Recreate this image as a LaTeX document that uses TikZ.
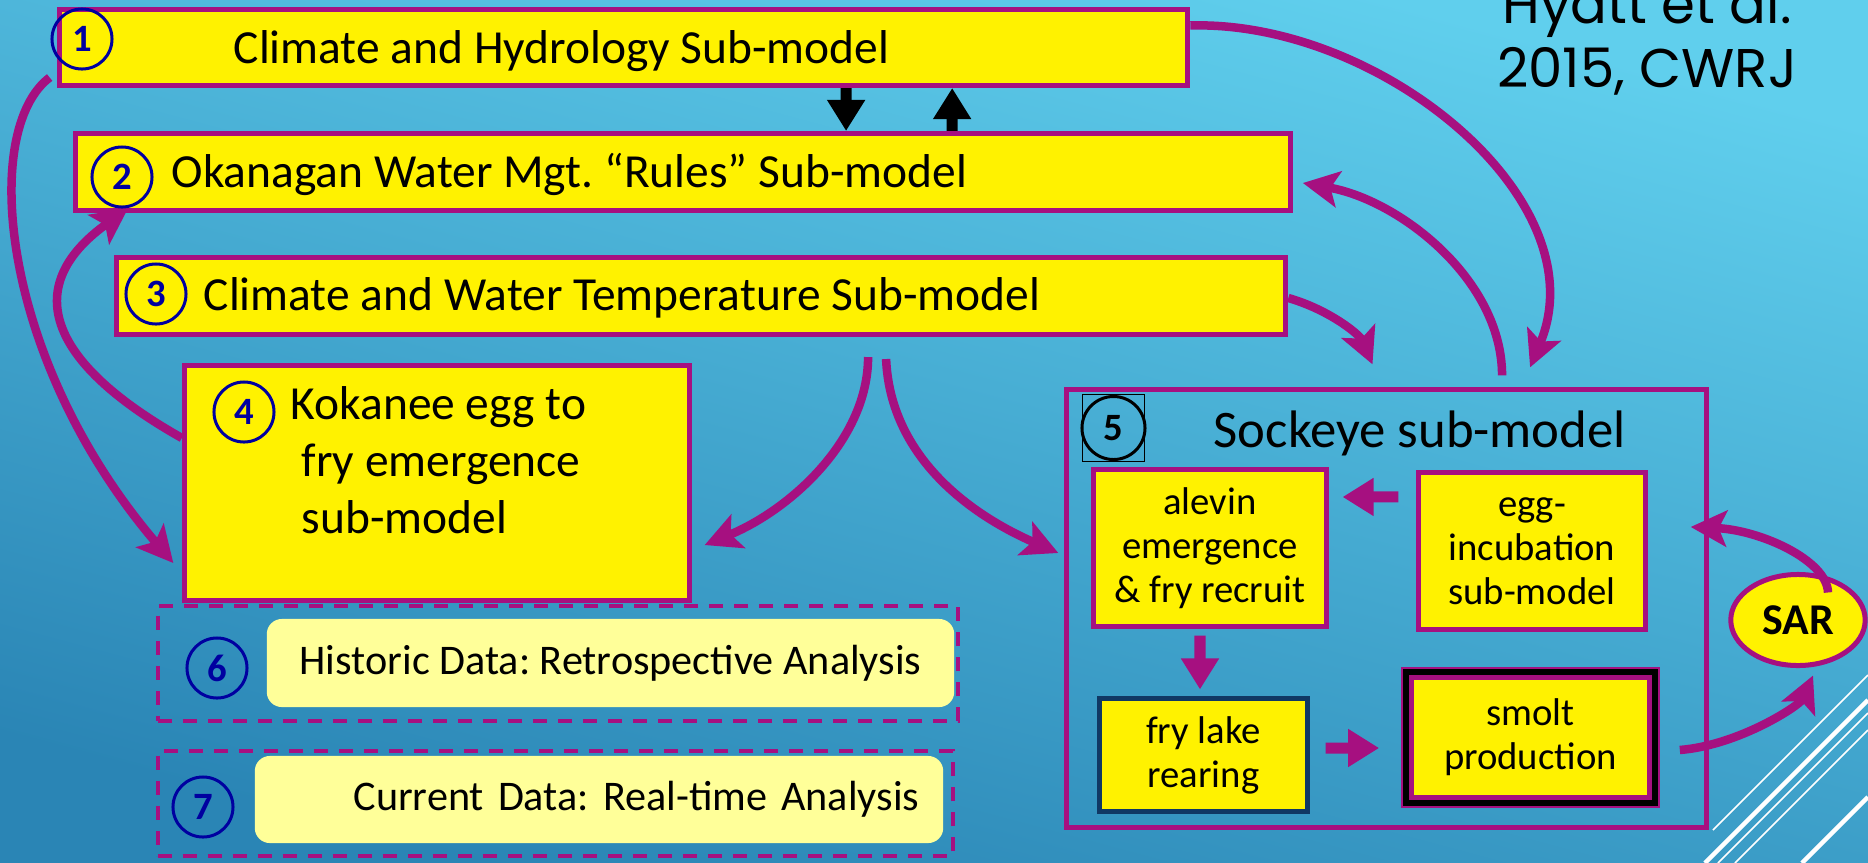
\documentclass[tikz,border=0pt]{standalone}
\usepackage{fontspec}
\setmainfont{Carlito}
\newfontfamily\citefont{Poppins}
\usetikzlibrary{arrows.meta,positioning,calc,shapes.geometric}
\definecolor{mag}{RGB}{166,16,128}
\definecolor{bgtop}{RGB}{96,207,237}
\definecolor{bgbot}{RGB}{42,133,181}
\definecolor{numblue}{RGB}{0,0,160}
\definecolor{paley}{RGB}{255,255,153}
\definecolor{navy}{RGB}{16,56,100}
\frenchspacing

\begin{document}
\begin{tikzpicture}[x=0.01cm,y=-0.01cm,
  >={Stealth[length=3.6mm,width=3.6mm,inset=0.8mm]},
  subbox/.style={draw=mag,fill=yellow,line width=0.5mm,inner sep=0pt},
  bigtxt/.style={font=\fontsize{13.5}{16.2}\selectfont,inner sep=0pt},
  smalltxt/.style={font=\fontsize{11}{12.5}\selectfont,align=center},
  numcirc/.style={circle,draw=numblue,line width=0.3mm,minimum size=6mm,inner sep=0pt,
    text=numblue,font=\fontsize{11}{13}\selectfont\bfseries},
  dashbox/.style={draw=mag,line width=0.35mm,dash pattern=on 1.4mm off 1.1mm,inner sep=0pt},
  databox/.style={fill=paley,rounded corners=1.5mm,inner sep=0pt,font=\fontsize{12}{14}\selectfont},
  flow/.style={->,draw=mag,line width=0.85mm},
  blk/.style={line width=1.1mm,-{Triangle[length=3.1mm,width=3.6mm]}},
  citetxt/.style={font={\citefont\fontsize{15.5}{18}\selectfont},inner sep=0pt}]
\shade[top color=bgtop,bottom color=bgbot,shading angle=-15] (0,0) rectangle (1868,863);
\useasboundingbox (0,0) rectangle (1868,863);
% corner lines
\draw[white,line width=0.17mm] (1713,830) -- (1868,675);
\draw[white,line width=0.45mm] (1705,863) -- (1868,700);
\draw[white,line width=0.17mm] (1718,863) -- (1868,713);
\draw[white,line width=0.17mm] (1735,863) -- (1868,730);
\draw[white,line width=0.45mm] (1802,863) -- (1868,797);

\node[citetxt,anchor=base] (cite1) at (1647,23) {Hyatt et al.};
\node[citetxt,anchor=base] (cite2) at (1647,87) {2015, CWRJ};

% data frames
\node[dashbox,minimum width=8cm,minimum height=1.15cm] (histframe) at (558,663.5) {};
\node[dashbox,minimum width=7.95cm,minimum height=1.05cm] (currframe) at (555.5,803.5) {};
\node[databox,minimum width=6.87cm,minimum height=0.88cm] (hist) at (610.5,663) {Historic Data: Retrospective Analysis};
\node[databox,minimum height=0.87cm,text width=6.4cm,inner xsep=0.24cm,align=right] (curr) at (599,799.5) {Current Data: Real-time Analysis};

% sub-models
\node[subbox,minimum width=11.28cm,minimum height=0.76cm] (hydro) at (623.5,47.5) {};
\node[bigtxt,anchor=base west] (hydrotxt) at (233,63) {Climate and Hydrology Sub-model};
\node[subbox,minimum width=12.15cm,minimum height=0.77cm] (rules) at (683,172) {};
\node[bigtxt,anchor=base west] (rulestxt) at (171,187) {Okanagan Water Mgt. “Rules” Sub-model};
\node[subbox,minimum width=11.69cm,minimum height=0.77cm] (wtemp) at (701,296) {};
\node[bigtxt,anchor=base west] (wtemptxt) at (203,310) {Climate and Water Temperature Sub-model};
\node[subbox,minimum width=5.05cm,minimum height=2.35cm] (koka) at (437,483) {};
\node[bigtxt,align=left,anchor=north west] (kokatxt) at (290,386) {Kokanee egg to\\\hspace*{1.1mm}fry emergence\\\hspace*{1.1mm}sub-model};

% sockeye
\node[draw=mag,line width=0.5mm,minimum width=6.4cm,minimum height=4.38cm] (sock) at (1386.5,608.5) {};
\node[font=\fontsize{15}{18}\selectfont,anchor=base west,inner sep=0pt] (socktxt) at (1213,447) {Sockeye sub-model};
\node[subbox,smalltxt,minimum width=2.33cm,minimum height=1.57cm] (alevin) at (1210,548) {alevin\\emergence\\\& fry recruit};
\node[subbox,smalltxt,minimum width=2.27cm,minimum height=1.57cm] (egg) at (1532,551) {egg-\\incubation\\sub-model};
\node[subbox,smalltxt,draw=navy,minimum width=2.08cm,minimum height=1.13cm] (frylake) at (1203.5,755) {fry lake\\rearing};
\node[subbox,smalltxt,line width=0.55mm,minimum width=2.54cm,minimum height=1.36cm] (smolt) at (1530.5,737.5) {smolt\\production};
\draw[black,line width=0.55mm] ([shift={(0.55mm,-0.55mm)}]smolt.north west) rectangle ([shift={(-0.55mm,0.55mm)}]smolt.south east);
\draw[mag,line width=0.55mm] ([shift={(1.1mm,-1.1mm)}]smolt.north west) rectangle ([shift={(-1.1mm,1.1mm)}]smolt.south east);
\node[ellipse,draw=mag,fill=yellow,line width=0.5mm,minimum width=1.34cm,minimum height=0.91cm,
  font=\fontsize{12.5}{14}\selectfont\bfseries] (sar) at (1798,620) {SAR};

% numbers
\node[numcirc] (n1) at (82,39) {1};
\node[numcirc] (n2) at (122,177) {2};
\node[numcirc] (n3) at (156,294) {3};
\node[numcirc] (n4) at (244,412) {4};
\node[draw,line width=0.15mm,minimum width=0.62cm,minimum height=0.67cm,inner sep=0pt] (n5box) at (1113.5,428) {};
\node[numcirc,draw=black,text=black,minimum size=6.3mm] (n5) at (n5box) {5};
\node[numcirc] (n6) at (217,668) {6};
\node[numcirc] (n7) at (203,807) {7};

% exchanges
\draw[blk] ([xshift=2.225cm]hydro.south) -- ([xshift=1.63cm]rules.north);
\draw[blk] ([xshift=2.69cm]rules.north) -- ([xshift=3.285cm]hydro.south);
\draw[blk,mag] ([shift={(-0.175cm,0.54cm)}]egg.west) -- ([shift={(0.135cm,0.51cm)}]alevin.east);
\draw[blk,mag] ([shift={(-0.1cm,-0.065cm)}]alevin.south) -- ([shift={(-0.035cm,0.065cm)}]frylake.north);
\draw[blk,mag] ([shift={(0.155cm,0.07cm)}]frylake.east) -- ([shift={(-0.215cm,-0.105cm)}]smolt.west);

\draw[flow] ([shift={(-0.07cm,-0.3cm)}]hydro.west) .. controls (-20,130) and (0,360) .. ([shift={(-0.085cm,-0.8cm)}]koka.west);
\draw[flow] ([yshift=0.45cm]koka.west) .. controls (54,366) and (16,289) .. ([xshift=0.6mm]n2.south);
\draw[flow] ([yshift=0.22cm]hydro.east) .. controls (1380,20) and (1600,200) .. ([shift={(1.435cm,0.195cm)}]sock.north);
\draw[flow] ([shift={(1.155cm,0.115cm)}]sock.north) .. controls (1502,280) and (1400,200) .. ([shift={(0.095cm,-0.11cm)}]rules.east);
\draw[flow] ([yshift=-0.02cm]wtemp.east) .. controls (1330,310) and (1360,335) .. ([shift={(3.085cm,0.225cm)}]sock.north west);
\draw[flow] ([shift={(1.67cm,-0.2cm)}]wtemp.south) .. controls (868,440) and (790,510) .. ([shift={(0.125cm,-0.62cm)}]koka.east);
\draw[flow] ([shift={(1.85cm,-0.22cm)}]wtemp.south) .. controls (890,450) and (960,510) .. ([shift={(-0.055cm,0.555cm)}]sock.west);
\draw[flow] ([shift={(0.195cm,-0.125cm)}]smolt.east) .. controls (1740,745) and (1800,705) .. ([shift={(0.15cm,-0.075cm)}]sar.south);
\draw[flow] ([shift={(0.3cm,-0.205cm)}]sar.north) .. controls (1827,560) and (1760,530) .. ([shift={(-0.185cm,0.815cm)}]sock.east);
\end{tikzpicture}
\end{document}
